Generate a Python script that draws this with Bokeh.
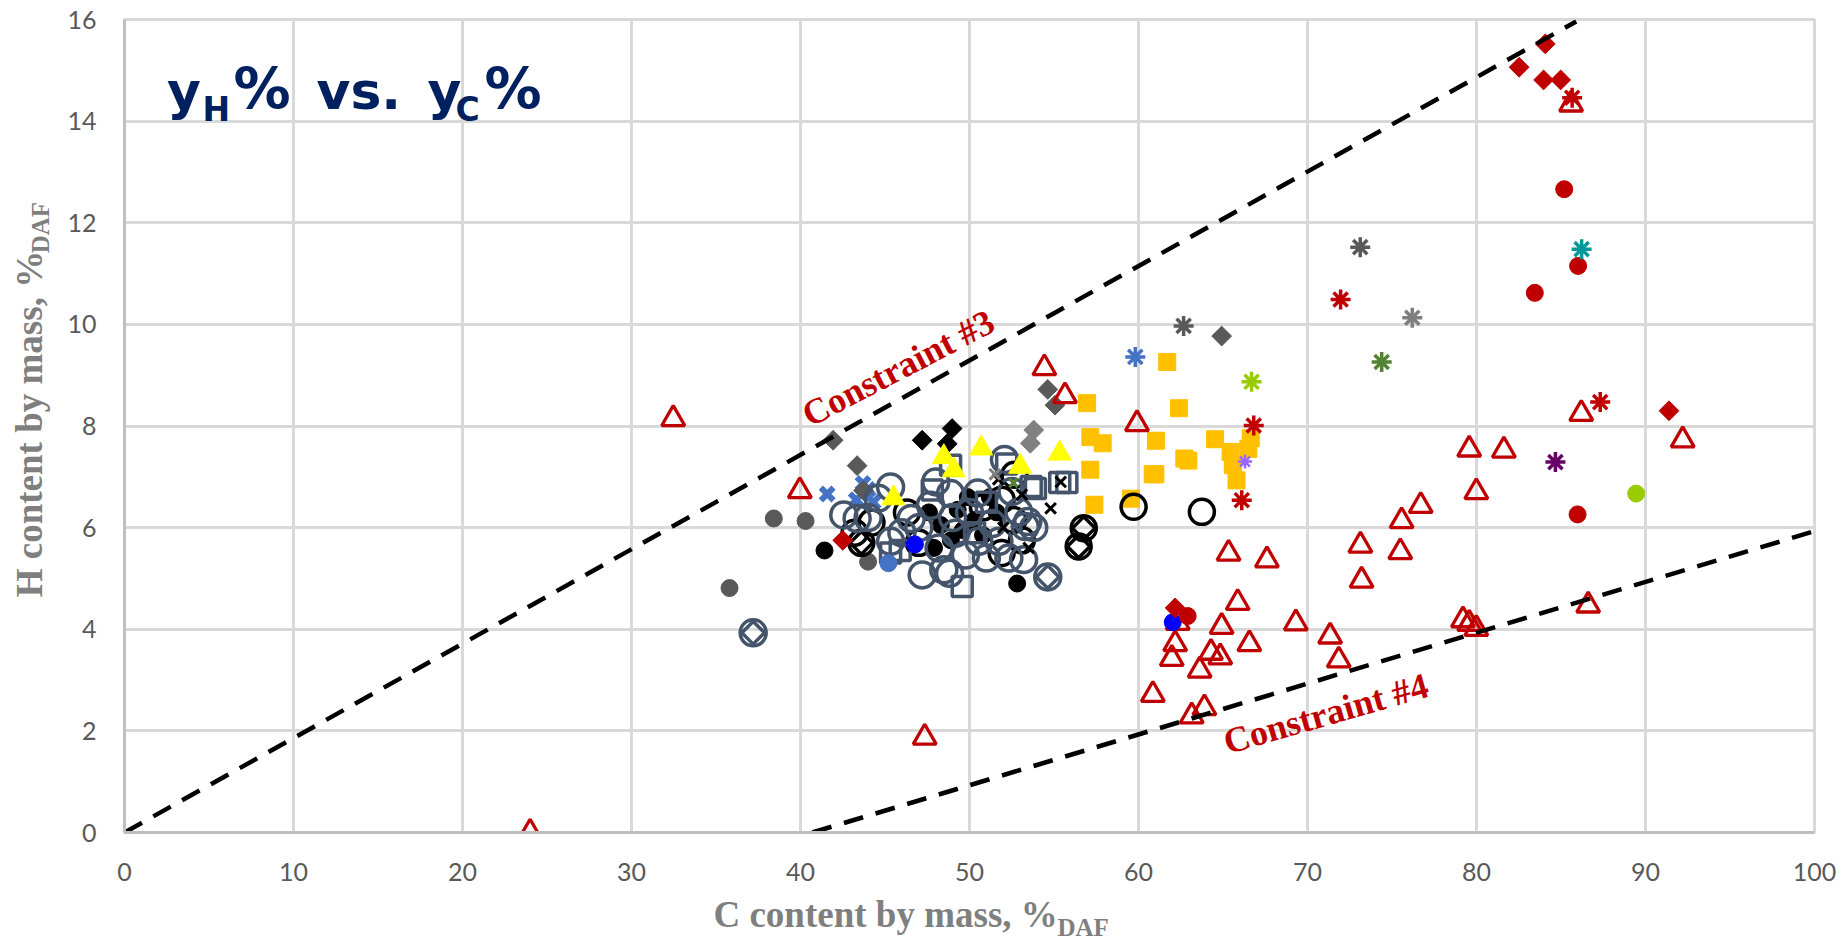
import math
from bokeh.plotting import figure
from bokeh.models import Range1d, Label, FixedTicker
from bokeh.embed import file_html
from bokeh.resources import INLINE
from bokeh.core.properties import value

# ---------------- data ----------------
x_ticks = [0, 10, 20, 30, 40, 50, 60, 70, 80, 90, 100]
y_ticks = [0, 2, 4, 6, 8, 10, 12, 14, 16]

c3_x = [0.0, 85.9]
c3_y = [0.0, 15.96]
c4_x = [40.7, 100.0]
c4_y = [0.0, 5.93]

gold_sq_x = [61.7, 56.96, 62.4, 57.15, 57.88, 61.03, 64.53, 62.71, 62.95, 57.15, 60.84, 57.39, 59.56,
             66.64, 66.5, 65.45, 65.58, 65.8, 61.0]
gold_sq_y = [9.26, 8.45, 8.35, 7.78, 7.66, 7.71, 7.74, 7.36, 7.32, 7.14, 7.05, 6.45, 6.57,
             7.76, 7.55, 7.49, 7.23, 6.93, 7.05]

blk_dot_x = [41.42, 52.82, 47.6, 48.3, 49.3, 49.6, 50.3, 50.8, 51.6, 48.9, 47.9, 51.2, 49.9]
blk_dot_y = [5.55, 4.90, 6.30, 6.05, 6.35, 5.95, 6.15, 5.85, 6.30, 5.75, 5.60, 6.60, 6.60]

blk_ring_x = [59.71, 63.75, 43.2, 44.2, 46.3, 47.0, 50.8, 51.9, 52.6, 53.1, 51.9, 52.66]
blk_ring_y = [6.41, 6.31, 5.90, 6.10, 6.30, 5.70, 6.40, 6.55, 6.15, 5.75, 5.50, 7.04]

blk_ringdia_x = [56.76, 56.46, 43.6]
blk_ringdia_y = [5.99, 5.63, 5.70]

slate_ringdia_x = [37.2, 54.63]
slate_ringdia_y = [3.93, 5.03]

blk_dia_x = [48.97, 47.2, 48.68]
blk_dia_y = [7.95, 7.72, 7.65]

slate_ring_x = [42.56, 43.35, 44.6, 45.33, 45.33, 46.55, 47.2, 47.69, 48.2, 48.82, 48.48, 48.88,
                49.17, 49.76, 50.49, 50.55, 51.34, 51.74, 52.07, 52.33, 52.52, 52.92, 53.3, 53.45,
                53.2, 53.8, 46.0, 47.0, 50.0, 51.0, 49.0, 44.0, 48.0]
slate_ring_y = [6.25, 6.18, 6.58, 6.80, 5.73, 6.18, 5.07, 6.44, 5.60, 5.10, 5.17, 6.67,
                5.89, 5.46, 6.68, 5.73, 6.08, 5.73, 7.34, 5.40, 6.71, 6.31, 6.02, 6.12,
                5.37, 6.00, 5.90, 6.00, 6.30, 5.40, 6.20, 6.20, 6.90]

slate_sq_x = [48.88, 52.2, 47.8, 53.9, 55.34, 55.76, 53.65, 49.57, 45.33, 45.9, 51.0, 50.3]
slate_sq_y = [7.23, 7.25, 6.74, 6.77, 6.89, 6.89, 6.81, 4.84, 5.50, 5.55, 6.50, 5.90]

blk_x_x = [54.8, 53.5, 55.4, 51.7, 52.0, 53.1]
blk_x_y = [6.38, 5.60, 6.90, 6.95, 6.00, 6.65]

yel_tri_x = [50.69, 48.48, 49.07, 53.0, 55.34, 45.5]
yel_tri_y = [7.56, 7.39, 7.13, 7.20, 7.46, 6.58]

gray_dia_x = [53.8, 53.6]
gray_dia_y = [7.92, 7.66]
gray_x_x = [51.5]
gray_x_y = [7.05]
green_x_x = [52.6]
green_x_y = [6.88]

dkgray_dia_x = [41.93, 43.35, 43.73, 54.63, 55.06, 64.92]
dkgray_dia_y = [7.72, 7.22, 6.73, 8.72, 8.41, 9.77]

dkgray_dot_x = [35.8, 38.42, 40.3, 44.0]
dkgray_dot_y = [4.81, 6.18, 6.13, 5.33]

blue_x_x = [41.58, 43.7, 43.3, 44.3, 44.0]
blue_x_y = [6.66, 6.87, 6.55, 6.50, 6.75]

blue_dot_x = [46.77, 62.03]
blue_dot_y = [5.67, 4.14]
mblue_dot_x = [45.2]
mblue_dot_y = [5.30]

red_tri_x = [24.0, 32.47, 39.96, 47.35, 54.43, 55.65, 59.91, 60.85, 62.17, 61.97, 62.32, 63.62,
             64.29, 64.84, 63.9, 63.15, 64.92, 65.87, 65.33, 66.56, 67.6, 69.31, 71.34, 71.85,
             73.13, 73.2, 75.49, 75.57, 76.7, 79.2, 79.57, 79.99, 79.57, 79.99, 81.62, 86.2,
             86.61, 92.2, 85.6]
red_tri_y = [0.0, 8.14, 6.72, 1.87, 9.14, 8.59, 8.04, 2.71, 3.71, 3.42, 4.13, 3.19,
             3.54, 3.45, 2.45, 2.29, 4.05, 4.52, 5.49, 3.71, 5.36, 4.12, 3.86, 3.39,
             5.65, 4.96, 5.52, 6.13, 6.43, 4.18, 4.11, 4.01, 7.54, 6.70, 7.52, 8.24,
             4.47, 7.72, 14.33]

red_dia_x = [84.07, 82.52, 83.97, 84.98, 91.39, 62.17, 42.5]
red_dia_y = [15.52, 15.06, 14.81, 14.81, 8.30, 4.42, 5.75]

red_dot_x = [85.19, 86.01, 83.45, 85.98, 62.91]
red_dot_y = [12.66, 11.15, 10.62, 6.26, 4.26]

red_ast_x = [85.66, 71.96, 87.32, 66.82, 66.11]
red_ast_y = [14.46, 10.49, 8.47, 8.01, 6.54]

dkgray_ast_x = [73.12, 62.67]
dkgray_ast_y = [11.52, 9.97]
gray_ast_x = [76.2]
gray_ast_y = [10.13]
green_ast_x = [74.39]
green_ast_y = [9.26]
lime_ast_x = [66.69]
lime_ast_y = [8.87]
teal_ast_x = [86.22]
teal_ast_y = [11.48]
purple_ast_x = [84.67]
purple_ast_y = [7.29]
lav_ast_x = [66.3]
lav_ast_y = [7.30]
blue_ast_x = [59.81]
blue_ast_y = [9.36]
lime_dot_x = [89.45]
lime_dot_y = [6.67]

# ---------------- figure ----------------
p = figure(width=1845, height=940, output_backend="svg", toolbar_location=None,
           x_range=Range1d(0, 100), y_range=Range1d(0, 16),
           min_border_left=124, min_border_right=31, min_border_top=19, min_border_bottom=108,
           background_fill_color="white", border_fill_color="white")
p.outline_line_color = "#d9d9d9"
p.outline_line_width = 3
p.xaxis.ticker = FixedTicker(ticks=x_ticks)
p.yaxis.ticker = FixedTicker(ticks=y_ticks)
p.grid.grid_line_color = "#d9d9d9"
p.grid.grid_line_width = 3
p.axis.axis_line_color = "#bfbfbf"
p.axis.axis_line_width = 3
p.axis.major_tick_line_color = None
p.axis.minor_tick_line_color = None
p.axis.major_label_text_font = "Lato"
p.axis.major_label_text_font_size = "25px"
p.axis.major_label_text_color = "#595959"
p.yaxis.major_label_standoff = 22
p.xaxis.major_label_standoff = 24

DIA = math.pi / 4


def sc(xs, ys, marker, size, fill, line, lw, angle=0.0):
    p.scatter(xs, ys, marker=marker, size=size, fill_color=fill, line_color=line,
              line_width=lw, angle=angle)


sc(gold_sq_x, gold_sq_y, "square", 17, "#FFC000", "#FFC000", 1)
sc(dkgray_dot_x, dkgray_dot_y, "circle", 17, "#595959", "#595959", 1)
sc(blk_dot_x, blk_dot_y, "circle", 17, "black", "black", 1)
sc(blk_ring_x, blk_ring_y, "circle", 25, None, "black", 3.5)
sc(blk_ringdia_x, blk_ringdia_y, "circle", 25, None, "black", 3.5)
sc(blk_ringdia_x, blk_ringdia_y, "square", 16, None, "black", 3.5, DIA)
sc(blk_dia_x, blk_dia_y, "square", 14, "black", "black", 1, DIA)
sc(blue_x_x, blue_x_y, "x", 18, None, "#4472C4", 6)
sc(dkgray_dia_x, dkgray_dia_y, "square", 14, "#595959", "#595959", 1, DIA)
sc(slate_ring_x, slate_ring_y, "circle", 26, None, "#44546A", 3.5)
sc(slate_ringdia_x, slate_ringdia_y, "circle", 26, None, "#44546A", 3.5)
sc(slate_ringdia_x, slate_ringdia_y, "square", 16, None, "#44546A", 3.5, DIA)
sc(slate_sq_x, slate_sq_y, "square", 20, None, "#44546A", 3.5)
sc(blk_x_x, blk_x_y, "x", 15, None, "black", 3)
sc(gray_dia_x, gray_dia_y, "square", 14, "#808080", "#808080", 1, DIA)
sc(gray_x_x, gray_x_y, "x", 15, None, "#808080", 3)
sc(green_x_x, green_x_y, "x", 12, None, "#548235", 3)
sc(yel_tri_x, yel_tri_y, "triangle", 23, "#FFFF00", "#FFFF00", 1)
sc(mblue_dot_x, mblue_dot_y, "circle", 17, "#4472C4", "#4472C4", 1)
sc(red_tri_x, red_tri_y, "triangle", 23, None, "#C00000", 3.3)
sc(blue_dot_x, blue_dot_y, "circle", 17, "#0000FF", "#0000FF", 1)
sc(red_dia_x, red_dia_y, "square", 14, "#C00000", "#C00000", 1, DIA)
sc(red_dot_x, red_dot_y, "circle", 17, "#C00000", "#C00000", 1)
sc(lime_dot_x, lime_dot_y, "circle", 17, "#99CC00", "#99CC00", 1)
sc(red_ast_x, red_ast_y, "asterisk", 20, None, "#C00000", 3.5)
sc(dkgray_ast_x, dkgray_ast_y, "asterisk", 20, None, "#595959", 3.5)
sc(gray_ast_x, gray_ast_y, "asterisk", 20, None, "#7F7F7F", 3.5)
sc(green_ast_x, green_ast_y, "asterisk", 20, None, "#548235", 3.5)
sc(lime_ast_x, lime_ast_y, "asterisk", 20, None, "#99CC00", 3.5)
sc(teal_ast_x, teal_ast_y, "asterisk", 20, None, "#009999", 3.5)
sc(purple_ast_x, purple_ast_y, "asterisk", 20, None, "#660066", 3.5)
sc(lav_ast_x, lav_ast_y, "asterisk", 14, None, "#9966FF", 2.5)
sc(blue_ast_x, blue_ast_y, "asterisk", 20, None, "#4472C4", 3.5)

p.line(c3_x, c3_y, line_color="black", line_width=4.5, line_dash="20 13")
p.line(c4_x, c4_y, line_color="black", line_width=4.5, line_dash="20 13")


def lab(x, y, text, font, size, color, bold=True, angle=0.0, align="left", baseline="alphabetic"):
    p.add_layout(Label(x=x, y=y, text=text, text_font=font, text_font_size=size,
                       text_color=color, text_font_style="bold" if bold else "normal",
                       angle=angle, text_align=align, text_baseline=baseline))


# constraint annotations
lab(45.78, 9.14, "Constraint #3", "Liberation Serif", "36px", "#C00000",
    angle=math.radians(27.5), align="center", baseline="middle")
lab(71.08, 2.34, "Constraint #4", "Liberation Serif", "36px", "#C00000",
    angle=math.radians(16), align="center", baseline="middle")

# title  yH% vs. yC%
NAVY = "#002060"
lab(2.51, 14.59, "y", "DejaVu Sans", "52px", NAVY)
lab(4.62, 14.23, "H", "DejaVu Sans", "33px", NAVY)
lab(6.45, 14.63, "%", "DejaVu Sans", "57px", NAVY)
lab(11.36, 14.59, "vs.", "DejaVu Sans", "52px", NAVY)
lab(17.93, 14.59, "y", "DejaVu Sans", "52px", NAVY)
lab(19.59, 14.23, "C", "DejaVu Sans", "33px", NAVY)
lab(21.30, 14.63, "%", "DejaVu Sans", "57px", NAVY)

# axis titles (outside the frame, drawn as overlay text glyphs so they are not clipped)
GR = "#7F7F7F"
p.text(x=[34.85, -5.62], y=[-1.62, 4.63], text=["C content by mass, %", "H content by mass, %"],
       angle=[0.0, math.pi / 2], text_font=value("Liberation Serif"), text_font_style="bold",
       text_font_size=value("37px"), text_color=GR, text_align="left",
       text_baseline="alphabetic", level="overlay")
p.text(x=[55.2, -4.97], y=[-1.87, 11.40], text=["DAF", "DAF"],
       angle=[0.0, math.pi / 2], text_font=value("Liberation Serif"), text_font_style="bold",
       text_font_size=value("25px"), text_color=GR, text_align="left",
       text_baseline="alphabetic", level="overlay")

open("out.html", "w").write(file_html(p, INLINE))
